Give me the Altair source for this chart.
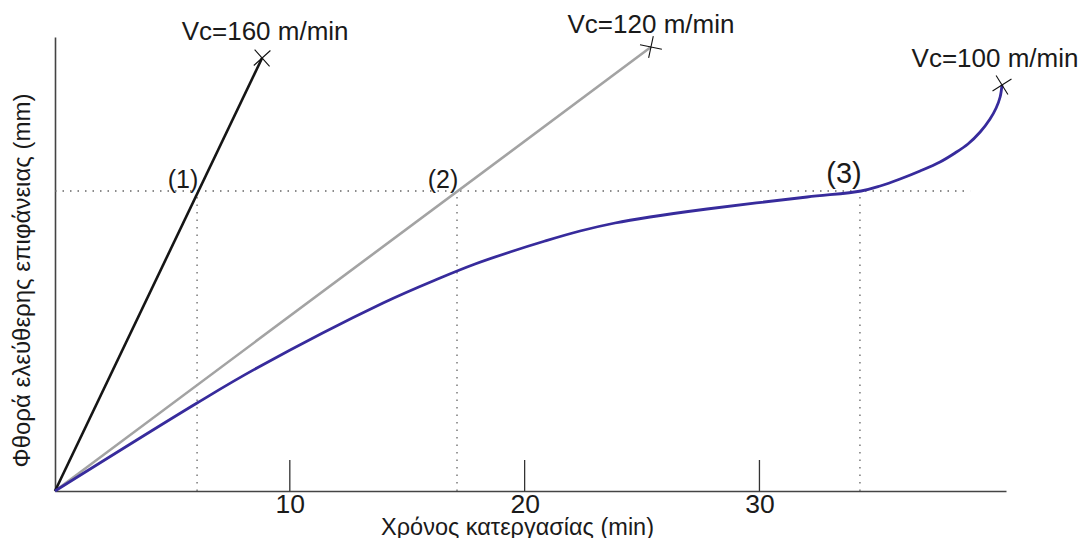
import altair as alt
import pandas as pd

# ---- data (time in min, wear in mm) ----
time_v160 = [0, 8.82]
wear_v160 = [0, 0.433]
time_v120 = [0, 25.38]
wear_v120 = [0, 0.444]
time_v100 = [0, 6.05, 8.60, 13.97, 16.40, 17.89, 19.38, 20.87, 22.36, 23.85, 25.34,
             27.77, 32.03, 34.33, 35.14, 35.99, 36.84, 37.69, 38.33, 38.88, 39.40,
             39.82, 40.08, 40.25, 40.33]
wear_v100 = [0, 0.088, 0.123, 0.188, 0.213, 0.227, 0.239, 0.250, 0.260, 0.268, 0.274,
             0.282, 0.294, 0.300, 0.305, 0.312, 0.320, 0.329, 0.338, 0.347, 0.359,
             0.372, 0.383, 0.394, 0.406]

speed_labels = ["Vc=160 m/min", "Vc=120 m/min", "Vc=100 m/min"]
point_labels = ["(1)", "(2)", "(3)"]
criterion_times = [6.05, 17.12, 34.28]
wear_limit = 0.3
limit_line_end = 38.97
x_ticks = [10, 20, 30]
tick_len = 0.031
x_domain = [0, 40.5]
y_domain = [0, 0.454]

FONT = "Liberation Sans"
TXT = "#1a1a1a"

xscale = alt.Scale(domain=x_domain, nice=False, zero=False)
yscale = alt.Scale(domain=y_domain, nice=False, zero=False)
x_axis = alt.Axis(values=x_ticks, ticks=False, grid=False, domainColor="#444",
                  domainWidth=1.6, labelFont=FONT, labelFontSize=26.5, labelPadding=0,
                  labelColor=TXT, labelFlush=False,
                  title="Χρόνος κατεργασίας (min)", titleFont=FONT, titleFontSize=23.5,
                  titleFontWeight="normal", titleColor=TXT, titleX=462, titleY=43,
                  titleBaseline="alphabetic", titleAlign="center")
y_axis = alt.Axis(labels=False, ticks=False, grid=False, domainColor="#444",
                  domainWidth=1.6, title="Φθορά ελεύθερης επιφάνειας (mm)",
                  titleFont=FONT, titleFontSize=24, titleFontWeight="normal",
                  titleColor=TXT, titleX=-33, titleY=243, titleBaseline="middle",
                  titleAlign="center", titleAngle=270)
X = alt.X("t:Q", scale=xscale, axis=x_axis)
Y = alt.Y("w:Q", scale=yscale, axis=y_axis)

def line_df(ts, ws):
    return pd.DataFrame({"t": ts, "w": ws})

l160 = alt.Chart(line_df(time_v160, wear_v160)).mark_line(
    color="#151515", strokeWidth=2.6).encode(x=X, y=Y)
l120 = alt.Chart(line_df(time_v120, wear_v120)).mark_line(
    color="#a3a3a3", strokeWidth=2.6).encode(x=X, y=Y)
l100 = alt.Chart(line_df(time_v100, wear_v100)).mark_line(
    color="#372b9c", strokeWidth=2.8, interpolate="catmull-rom").encode(x=X, y=Y)

# dotted guides
hdf = pd.DataFrame({"t": [0], "t2": [limit_line_end], "w": [wear_limit]})
hrule = alt.Chart(hdf).mark_rule(color="#666", strokeWidth=1.3, strokeDash=[1.5, 6]).encode(
    x=X, x2="t2:Q", y=Y)
vdf = pd.DataFrame({"t": criterion_times, "w": [0] * 3, "w2": [wear_limit] * 3})
vrule = alt.Chart(vdf).mark_rule(color="#666", strokeWidth=1.3, strokeDash=[1.5, 6]).encode(
    x=X, y=Y, y2="w2:Q")

# inner ticks on the x axis
tdf = pd.DataFrame({"t": x_ticks, "w": [0] * 3, "w2": [tick_len] * 3})
ticks = alt.Chart(tdf).mark_rule(color="#333", strokeWidth=1.3).encode(x=X, y=Y, y2="w2:Q")

# end markers (thin crosses)
cross = "M-1,0L1,0M0,-1L0,1"
def marker(ts, ws, ang):
    d = pd.DataFrame({"t": [ts[-1]], "w": [ws[-1]]})
    return alt.Chart(d).mark_point(shape=cross, size=500, angle=ang, color="#111",
                                   strokeWidth=1.1, filled=False, opacity=1).encode(x=X, y=Y)

m160 = marker(time_v160, wear_v160, 48)
m120 = marker(time_v120, wear_v120, 12)
m100 = marker(time_v100, wear_v100, 58)

ends = pd.DataFrame({
    "t": [time_v160[-1], time_v120[-1], time_v100[-1]],
    "w": [wear_v160[-1], wear_v120[-1], wear_v100[-1]],
    "label": speed_labels,
})
def speed_text(rows, dy, dx=0):
    return alt.Chart(ends.iloc[rows]).mark_text(
        font=FONT, fontSize=26, color=TXT, align="center", baseline="alphabetic",
        dy=dy, dx=dx).encode(x=X, y=Y, text="label:N")

st160 = speed_text([0], -18, 3)
st120 = speed_text([1], -14, 0)
st100 = speed_text([2], -18, -7)

pts = pd.DataFrame({"t": criterion_times, "w": [wear_limit] * 3, "label": point_labels})
pt_text12 = alt.Chart(pts.iloc[:2]).mark_text(font=FONT, fontSize=25, color=TXT, align="center",
                                              baseline="alphabetic", dx=-14, dy=-3).encode(
    x=X, y=Y, text="label:N")
pt_text3 = alt.Chart(pts.iloc[2:]).mark_text(font=FONT, fontSize=29, color=TXT, align="center",
                                             baseline="alphabetic", dx=-16, dy=-8).encode(
    x=X, y=Y, text="label:N")

chart = alt.layer(
    hrule, vrule, ticks, l120, l160, l100, m160, m120, m100,
    st160, st120, st100, pt_text12, pt_text3
).properties(
    width=951, height=454,
    padding={"left": 47, "top": 29, "right": 75, "bottom": 47},
    autosize=alt.AutoSizeParams(type="none"),
).configure_view(stroke=None)

chart.save("out.html", embed_options={"renderer": "svg", "actions": False})
